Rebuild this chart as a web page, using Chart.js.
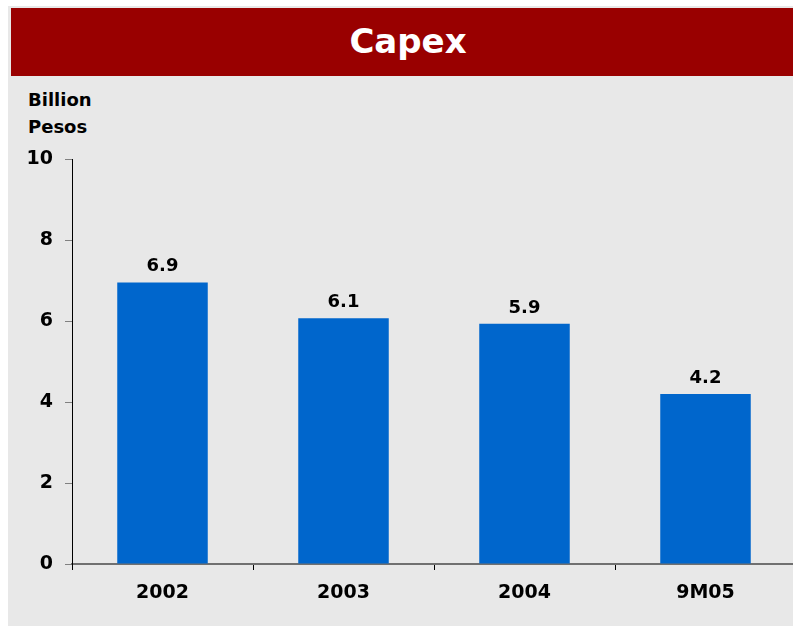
<!DOCTYPE html>
<html>
<head>
<meta charset="utf-8">
<script src="https://cdn.jsdelivr.net/npm/chart.js@4/dist/chart.umd.min.js"></script>
<style>
  html, body { margin: 0; padding: 0; background: #fff; overflow: hidden; }
  #panel { position: absolute; left: 8px; top: 6px; width: 785px; height: 620px; background: #e8e8e8; }
  #band { position: absolute; left: 11px; top: 8px; width: 782px; height: 68px; background: #990000; }
  #title { position: absolute; left: 308px; top: 23.7px; width: 200px; text-align: center;
           font: bold 34px "DejaVu Sans"; line-height: 1; color: #fff; }
  #unit { position: absolute; left: 28px; top: 85.7px; font: bold 18px "DejaVu Sans"; line-height: 27px; color: #000; }
  canvas { position: absolute; left: 0; top: 0; }
</style>
</head>
<body>
<div id="panel"></div>
<div id="band"></div>
<div id="title">Capex</div>
<div id="unit">Billion<br>Pesos</div>
<canvas id="chart" width="800" height="626"></canvas>
<script>
"use strict";

const categories = ["2002", "2003", "2004", "9M05"];
const capex = [6.95, 6.07, 5.93, 4.2];
const valueLabels = ["6.9", "6.1", "5.9", "4.2"];
const yTicks = [0, 2, 4, 6, 8, 10];

const FONT = "DejaVu Sans";

// writes the value above each bar
const barLabels = {
    id: "barLabels",
    afterDatasetsDraw(chart) {
        let ctx = chart.ctx;
        ctx.save();
        ctx.font = `bold 18px "${FONT}"`;
        ctx.fillStyle = "#000";
        ctx.textAlign = "center";
        ctx.textBaseline = "middle";
        chart.getDatasetMeta(0).data.forEach((bar, i) => {
            ctx.fillText(valueLabels[i], bar.x, bar.y - 16);
        });
        ctx.restore();
    }
};

let ctx = document.getElementById("chart").getContext("2d");
let chart = new Chart(ctx, {
    type: "bar",
    data: {
        labels: categories,
        datasets: [{
            data: capex,
            backgroundColor: "#0066cc",
            borderWidth: 0,
            barPercentage: 0.5,
            categoryPercentage: 1
        }]
    },
    options: {
        responsive: false,
        animation: false,
        devicePixelRatio: 1,
        layout: { autoPadding: false, padding: { left: 0, top: 159, right: 4, bottom: 0 } },
        plugins: { legend: { display: false }, tooltip: { enabled: false } },
        scales: {
            x: {
                afterFit(scale) { scale.height = 62; },
                grid: { drawOnChartArea: false, offset: true, tickLength: 6, color: "#000" },
                border: { color: "#707070", width: 2 },
                ticks: { color: "#000", padding: 12, font: { family: FONT, size: 19, weight: "bold" } }
            },
            y: {
                min: 0,
                max: 10,
                afterFit(scale) { scale.width = 72; },
                afterBuildTicks(scale) { scale.ticks = yTicks.map(v => ({ value: v })); },
                grid: { drawOnChartArea: false, tickLength: 7, color: "#808080" },
                border: { color: "#000", width: 1 },
                ticks: { color: "#000", padding: 12, font: { family: FONT, size: 19, weight: "bold" } }
            }
        }
    },
    plugins: [barLabels]
});
</script>
</body>
</html>
